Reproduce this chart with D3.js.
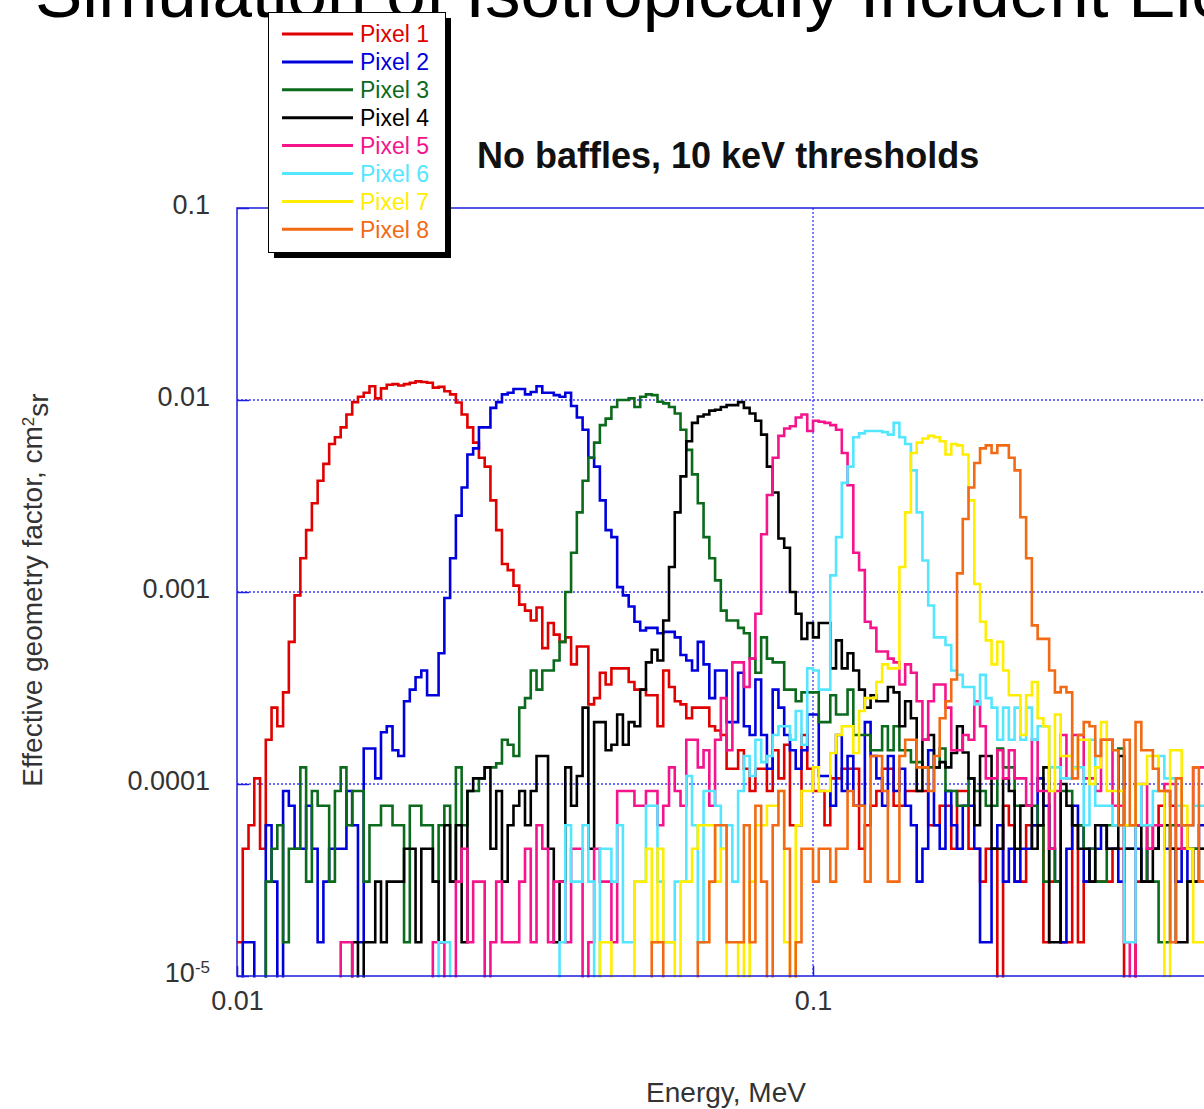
<!DOCTYPE html>
<html>
<head>
<meta charset="utf-8">
<script src="https://cdn.jsdelivr.net/npm/d3@7"></script>
<style>
  body { margin: 0; background: #fff; overflow: hidden; }
  svg { display: block; font-family: "Liberation Sans", Arial, sans-serif; }
</style>
</head>
<body>
<div id="chart"></div>
<script>
// Histogram bins: log-spaced energy bins starting at 10 keV
const binStart = 0.01;          // MeV
const binsPerDecade = 100;

// Series labels / colours
const pixelNames = ["Pixel 1", "Pixel 2", "Pixel 3", "Pixel 4", "Pixel 5", "Pixel 6", "Pixel 7", "Pixel 8"];
const pixelColors = ["#e00000", "#0000dd", "#0b6a1c", "#000000", "#f5148c", "#55e6ff", "#ffee00", "#f26a14"];

// Effective geometry factor per bin, in units of 1e-5 cm^2 sr (0 = empty bin)
const unit = 1e-5;
const pixel1 = [
  1.5, 4.6, 6.1, 10.7, 4.6, 17, 25, 20, 30, 55,
  96, 150, 210, 290, 380, 465, 590, 640, 720, 840,
  975, 1040, 1090, 1180, 1020, 1150, 1200, 1210, 1190, 1210,
  1230, 1250, 1240, 1230, 1160, 1170, 1110, 1070, 970, 840,
  720, 600, 500, 450, 300, 210, 140, 130, 108, 86,
  80, 71, 83, 51, 69, 60, 55, 58, 42, 52,
  52, 26, 28, 38, 33, 40, 40, 40, 34, 31,
  31, 29, 29, 20, 39, 32, 27, 26, 22, 25,
  25, 25, 20, 19, 18, 12, 12, 15, 12, 9.2,
  12, 12, 9.2, 15, 10.7, 16, 6.1, 6.1, 18, 12,
  9.2, 9.2, 6.1, 10.7, 10.7, 12, 12, 12, 4.6, 6.1,
  7.7, 9.2, 12, 12, 7.7, 7.7, 9.2, 9.2, 9.2, 9.2,
  6.1, 6.1, 7.7, 7.7, 4.6, 9.2, 9.2, 4.6, 4.6, 3.1,
  4.6, 4.6, 0, 7.7, 6.1, 3.1, 3.1, 6.1, 6.1, 6.1,
  1.5, 3.1, 3.1, 1.5, 1.5, 6.1, 1.5, 3.1, 3.1, 3.1,
  3.1, 3.1, 4.6, 4.6, 0, 0, 3.1, 3.1, 6.1, 4.6,
  7.7, 9.2, 7.7, 4.6, 4.6, 4.6, 3.1, 3.1
];
const pixel2 = [
  0, 1.5, 1.5, 0, 0, 6.1, 3.1, 0, 9.2, 7.7,
  4.6, 4.6, 7.7, 4.6, 1.5, 3.1, 4.6, 4.6, 4.6, 9.2,
  6.1, 1.5, 15.3, 15.3, 10.7, 18.6, 20, 15, 14, 27,
  31, 36, 39, 29, 29, 48, 93, 150, 250, 350,
  520, 560, 720, 720, 910, 975, 1070, 1090, 1140, 1140,
  1070, 1100, 1180, 1090, 1090, 1060, 1040, 1090, 930, 810,
  700, 500, 450, 300, 210, 193, 106, 96, 84, 70,
  63, 65, 65, 61, 62, 62, 58, 47, 44, 39,
  55, 42, 28, 39, 39, 21, 21, 38, 20, 18,
  35, 18, 12, 31, 25, 18, 15, 12, 15, 23,
  23, 11, 11, 7.7, 18, 9.2, 14, 7.7, 7.7, 21,
  14, 10.7, 7.7, 14, 9.2, 12, 7.7, 6.1, 3.1, 4.6,
  15, 6.1, 4.6, 9.2, 6.1, 4.6, 7.7, 7.7, 4.6, 1.5,
  1.5, 4.6, 6.1, 3.1, 4.6, 3.1, 4.6, 4.6, 6.1, 10.7,
  7.7, 4.6, 3.1, 1.5, 4.6, 7.7, 6.1, 3.1, 4.6, 4.6,
  6.1, 4.6, 4.6, 3.1, 4.6, 4.6, 4.6, 3.1, 4.6, 4.6,
  6.1, 4.6, 4.6, 3.1, 4.6, 3.1, 4.6, 6.1
];
const pixel3 = [
  0, 0, 0, 0, 0, 3.1, 4.6, 6.1, 1.5, 4.6,
  4.6, 12.2, 3.1, 9.2, 7.7, 7.7, 3.1, 9.2, 12.2, 6.1,
  9.2, 9.2, 3.1, 6.1, 6.1, 7.7, 7.7, 6.1, 6.1, 1.5,
  7.7, 7.7, 6.1, 6.1, 3.1, 6.1, 7.7, 3.1, 12.2, 6.1,
  9.2, 9.2, 10.7, 12.2, 12.2, 12.8, 17, 16, 14, 25,
  28, 39, 31, 39, 39, 44, 55, 100, 160, 260,
  380, 500, 600, 740, 800, 920, 1000, 1000, 1020, 920,
  1040, 1070, 1060, 980, 960, 920, 850, 700, 550, 410,
  290, 193, 150, 115, 80, 71, 71, 65, 61, 45,
  38, 58, 45, 43, 43, 31, 31, 27, 30, 30,
  30, 21, 21, 29, 23, 23, 31, 18, 18, 18,
  15, 15, 20, 15, 20, 15, 15, 13, 13, 12.2,
  12.2, 12.2, 15.3, 9.2, 9.2, 7.7, 7.7, 10.7, 9.2, 9.2,
  7.7, 7.7, 15.3, 12.2, 12.2, 7.7, 7.7, 7.7, 7.7, 6.1,
  3.1, 4.6, 3.1, 9.2, 9.2, 6.1, 6.1, 4.6, 4.6, 3.1,
  3.1, 6.1, 6.1, 15.3, 6.1, 6.1, 6.1, 6.1, 3.1, 3.1,
  1.5, 1.5, 6.1, 6.1, 6.1, 4.6, 4.6, 4.6
];
const pixel4 = [
  0, 0, 0, 0, 0, 0, 0, 0, 0, 0,
  0, 0, 0, 0, 0, 0, 0, 0, 0, 0,
  1.5, 0, 1.5, 1.5, 3.1, 1.5, 3.1, 3.1, 3.1, 4.6,
  4.6, 1.5, 4.6, 4.6, 3.1, 1.5, 6.1, 3.1, 6.1, 1.5,
  9.2, 10.7, 10.7, 12.2, 4.6, 9.2, 3.1, 6.1, 7.7, 9.2,
  6.1, 9.2, 14, 14, 4.6, 1.5, 3.1, 12.2, 7.7, 11,
  25, 4.6, 21, 21, 15, 16, 23, 16, 21, 20,
  31, 43, 50, 44, 71, 135, 260, 400, 610, 760,
  820, 840, 880, 890, 920, 940, 940, 975, 910, 850,
  780, 660, 450, 330, 190, 170, 100, 77, 57, 69,
  58, 69, 69, 40, 56, 40, 48, 39, 31, 25,
  29, 27, 27, 32, 30, 20, 27, 22, 9.2, 17,
  18, 12.2, 13, 12.2, 14.5, 20, 14.6, 10.7, 6.1, 14,
  14, 4.6, 4.6, 10.7, 9.2, 4.6, 7.7, 7.7, 4.6, 6.1,
  12.2, 1.5, 1.5, 10, 7.7, 6.1, 4.6, 4.6, 3.1, 6.1,
  6.1, 4.6, 4.6, 14, 4.6, 4.6, 6.1, 3.1, 3.1, 4.6,
  6.1, 6.1, 4.6, 1.5, 1.5, 3.1, 3.1, 4.6
];
const pixel5 = [
  0, 0, 0, 0, 0, 0, 0, 0, 0, 0,
  0, 0, 0, 0, 0, 0, 0, 0, 1.5, 1.5,
  0, 0, 0, 0, 0, 0, 0, 0, 0, 0,
  0, 0, 0, 0, 1.5, 1.5, 0, 0, 3.1, 4.6,
  1.5, 3.1, 3.1, 0, 1.5, 3.1, 1.5, 1.5, 1.5, 3.1,
  4.6, 1.5, 6.1, 4.6, 1.5, 3.1, 3.1, 1.5, 4.6, 4.6,
  0, 1.5, 4.6, 3.1, 3.1, 1.5, 9.2, 9.2, 9.2, 7.7,
  7.7, 9.2, 9.2, 6.1, 7.7, 12.2, 9.2, 7.7, 17, 17,
  12.2, 15, 7.7, 17, 28, 15, 43, 43, 32, 45,
  77, 200, 320, 500, 650, 710, 730, 810, 840, 690,
  780, 770, 760, 740, 700, 530, 360, 160, 130, 70,
  65, 49, 49, 45, 43, 33, 42, 38, 27, 17,
  27, 33, 33, 25, 15, 15, 18, 17, 27, 20,
  10.7, 10.7, 15, 10.7, 15, 10.7, 10.7, 7.7, 17, 9.2,
  9.2, 4.6, 9.2, 18, 10.7, 18, 18, 10.7, 10.7, 9.2,
  17, 17, 7.7, 7.7, 1.5, 0, 6.1, 10, 4.6, 6.1,
  6.1, 10, 10, 6.1, 4.6, 6.1, 12.2, 12.2
];
const pixel6 = [
  0, 0, 0, 0, 0, 0, 0, 0, 0, 0,
  0, 0, 0, 0, 0, 0, 0, 0, 0, 0,
  0, 0, 0, 0, 0, 0, 0, 0, 0, 0,
  0, 0, 0, 0, 0, 1.5, 1.5, 0, 0, 0,
  0, 0, 0, 0, 0, 0, 0, 0, 0, 0,
  0, 0, 0, 0, 0, 0, 1.5, 6.1, 3.1, 3.1,
  6.1, 3.1, 0, 4.6, 4.6, 3.1, 6.1, 1.5, 1.5, 3.1,
  3.1, 7.7, 7.7, 3.1, 1.5, 1.5, 3.1, 3.1, 11, 6.1,
  1.5, 9.2, 9.2, 7.7, 4.6, 6.1, 3.1, 9.2, 14, 11,
  17, 13, 14, 18, 20, 20, 17, 24, 16, 40,
  39, 31, 31, 122, 193, 370, 450, 640, 670, 690,
  690, 690, 680, 660, 760, 640, 590, 430, 260, 146,
  85, 58, 58, 53, 39, 37, 32, 32, 26, 37,
  28, 25, 17, 25, 17, 25, 17, 25, 17, 20,
  20, 12.2, 12.2, 10.7, 10.7, 12.2, 12.2, 6.1, 17, 7.7,
  7.7, 7.7, 6.1, 6.1, 1.5, 1.5, 10, 6.1, 6.1, 9.2,
  14, 10.7, 10.7, 7.7, 6.1, 6.1, 7.7, 7.7
];
const pixel7 = [
  0, 0, 0, 0, 0, 0, 0, 0, 0, 0,
  0, 0, 0, 0, 0, 0, 0, 0, 0, 0,
  0, 0, 0, 0, 0, 0, 0, 0, 0, 0,
  0, 0, 0, 0, 0, 0, 0, 0, 0, 0,
  0, 0, 0, 0, 0, 0, 0, 0, 0, 0,
  0, 0, 0, 0, 0, 0, 0, 0, 0, 0,
  0, 0, 0, 1.5, 1.5, 0, 0, 0, 0, 3.1,
  3.1, 4.6, 1.5, 4.6, 1.5, 1.5, 0, 3.1, 3.1, 4.6,
  6.1, 6.1, 6.1, 3.1, 4.6, 0, 0, 1.5, 0, 3.1,
  6.1, 6.1, 7.7, 7.7, 9.2, 1.5, 0, 6.1, 9.2, 9.2,
  12.2, 9.2, 9.2, 14.5, 18, 20, 20, 14.5, 24, 28,
  28, 34, 42, 40, 40, 135, 260, 530, 600, 630,
  650, 640, 610, 520, 590, 580, 520, 300, 110, 70,
  56, 42, 55, 39, 29, 29, 18, 29, 34, 22,
  20, 9.2, 23, 14, 14, 12, 17, 17, 10, 12.2,
  21, 9.2, 9.2, 9.2, 6.1, 6.1, 10, 10, 14, 14,
  9.2, 0, 15, 15, 7.7, 4.6, 1.5, 1.5
];
const pixel8 = [
  0, 0, 0, 0, 0, 0, 0, 0, 0, 0,
  0, 0, 0, 0, 0, 0, 0, 0, 0, 0,
  0, 0, 0, 0, 0, 0, 0, 0, 0, 0,
  0, 0, 0, 0, 0, 0, 0, 0, 0, 0,
  0, 0, 0, 0, 0, 0, 0, 0, 0, 0,
  0, 0, 0, 0, 0, 0, 0, 0, 0, 0,
  0, 0, 0, 0, 0, 0, 0, 0, 0, 0,
  0, 0, 1.5, 1.5, 0, 0, 0, 0, 0, 0,
  1.5, 1.5, 3.1, 6.1, 6.1, 1.5, 1.5, 1.5, 6.1, 1.5,
  7.7, 3.1, 0, 6.1, 9.2, 4.6, 0, 1.5, 4.6, 4.6,
  3.1, 4.6, 4.6, 3.1, 4.6, 4.6, 9.2, 7.7, 7.7, 3.1,
  14, 14, 9.2, 3.1, 3.1, 14, 17, 17, 12.2, 12.2,
  9.2, 14, 22, 27, 35, 125, 240, 350, 470, 560,
  580, 530, 580, 580, 500, 430, 245, 150, 67, 57,
  57, 39, 30, 32, 30, 10.7, 18, 21, 20, 14,
  17, 17, 15, 6.1, 17, 6.1, 21, 15, 15, 12,
  9.2, 9.2, 1.5, 10.7, 6.1, 6.1, 12.2, 3.1
];
const pixelValues = [pixel1, pixel2, pixel3, pixel4, pixel5, pixel6, pixel7, pixel8];

// Axis ticks
const yTicks = [1e-5, 1e-4, 1e-3, 1e-2, 1e-1];
const yTickLabels = ["10-5", "0.0001", "0.001", "0.01", "0.1"];
const xTicks = [0.01, 0.1];
const xTickLabels = ["0.01", "0.1"];

// Layout
const width = 1204;
const height = 1109;
const plot = { left: 237, top: 208, right: 1389, bottom: 976 };
const frameColor = "#1c1cdc";
const gridColor = "#3b3bff";
const textColor = "#333";

const svg = d3.select("#chart")
  .append("svg")
  .attr("width", width)
  .attr("height", height);

// Scales (x axis runs to 1 MeV, past the right edge of the picture)
const x = d3.scaleLog().domain([0.01, 1]).range([plot.left, plot.right]);
const y = d3.scaleLog().domain([1e-5, 0.1]).range([plot.bottom, plot.top]);

// Grid (dotted)
const grid = svg.append("g");
grid.selectAll(".hgrid")
  .data([1e-4, 1e-3, 1e-2])
  .join("line")
  .attr("x1", plot.left).attr("x2", plot.right)
  .attr("y1", d => y(d)).attr("y2", d => y(d))
  .attr("stroke", gridColor)
  .attr("stroke-width", 1.3)
  .attr("stroke-dasharray", "2,2");
grid.append("line")
  .attr("x1", x(0.1)).attr("x2", x(0.1))
  .attr("y1", plot.top).attr("y2", plot.bottom)
  .attr("stroke", gridColor)
  .attr("stroke-width", 1.3)
  .attr("stroke-dasharray", "2,2");

// Clip for the histograms
svg.append("clipPath").attr("id", "plot-clip")
  .append("rect")
  .attr("x", plot.left).attr("y", plot.top)
  .attr("width", plot.right - plot.left)
  .attr("height", plot.bottom - plot.top + 1.5);

// Histograms (step lines)
const nBins = pixel1.length;
const edges = d3.range(nBins + 1).map(i => binStart * Math.pow(10, i / binsPerDecade));
const floorValue = 1e-6; // empty bins drop below the axis

const line = d3.line()
  .x(d => x(d.e))
  .y(d => y(d.v > 0 ? d.v * unit : floorValue))
  .curve(d3.curveStepAfter);

const lines = svg.append("g").attr("clip-path", "url(#plot-clip)");
pixelValues.forEach((vals, k) => {
  const pts = vals.map((v, i) => ({ e: edges[i], v }));
  pts.push({ e: edges[vals.length], v: vals[vals.length - 1] });
  lines.append("path")
    .datum(pts)
    .attr("fill", "none")
    .attr("stroke", pixelColors[k])
    .attr("stroke-width", 2.6)
    .attr("stroke-linejoin", "miter")
    .attr("d", line);
});

// Axes
const yAxis = svg.append("g")
  .attr("transform", `translate(${plot.left},0)`)
  .call(d3.axisLeft(y)
    .tickValues(yTicks)
    .tickFormat((d, i) => yTickLabels[i])
    .tickSize(-12)
    .tickSizeOuter(0)
    .tickPadding(27));

const xAxis = svg.append("g")
  .attr("transform", `translate(0,${plot.bottom})`)
  .call(d3.axisBottom(x)
    .tickValues(xTicks)
    .tickFormat((d, i) => xTickLabels[i])
    .tickSize(-10)
    .tickSizeOuter(0)
    .tickPadding(15));

[yAxis, xAxis].forEach(g => {
  g.select(".domain").remove();
  g.selectAll("line").attr("stroke", frameColor).attr("stroke-width", 1.5);
  g.selectAll("text")
    .attr("fill", textColor)
    .style("font-size", "27px")
    .style("font-family", "\"Liberation Sans\", Arial, sans-serif");
});
yAxis.selectAll("text").attr("dy", "0.22em");

// 10^-5 label with superscript
yAxis.selectAll(".tick text")
  .filter(d => d === 1e-5)
  .text(null)
  .call(t => {
    t.append("tspan").text("10");
    t.append("tspan").attr("dy", "-0.55em").style("font-size", "17px").text("-5");
  });

// Frame
svg.append("rect")
  .attr("x", plot.left).attr("y", plot.top)
  .attr("width", plot.right - plot.left)
  .attr("height", plot.bottom - plot.top)
  .attr("fill", "none")
  .attr("stroke", frameColor)
  .attr("stroke-width", 1.5);

// Axis titles
svg.append("text")
  .attr("x", 726).attr("y", 1102)
  .attr("text-anchor", "middle")
  .attr("fill", textColor)
  .style("font-size", "28px")
  .text("Energy, MeV");

const yTitle = svg.append("text")
  .attr("transform", "translate(42,590) rotate(-90)")
  .attr("text-anchor", "middle")
  .attr("fill", textColor)
  .style("font-size", "28px");
yTitle.append("tspan").text("Effective geometry factor, cm");
yTitle.append("tspan").attr("dy", "-0.5em").style("font-size", "17px").text("2");
yTitle.append("tspan").attr("dy", "0.5em").text("sr");

// Titles
svg.append("text")
  .attr("x", 35).attr("y", 17)
  .attr("fill", "#000")
  .style("font-size", "71px")
  .text("Simulation of Isotropically Incident Electrons");

svg.append("text")
  .attr("x", 477).attr("y", 168)
  .attr("fill", "#111")
  .style("font-size", "36px")
  .style("font-weight", "bold")
  .text("No baffles, 10 keV thresholds");

// Legend
const legend = svg.append("g");
legend.append("rect")
  .attr("x", 274).attr("y", 18).attr("width", 177).attr("height", 240)
  .attr("fill", "#000");
legend.append("rect")
  .attr("x", 268.5).attr("y", 12.5).attr("width", 177).attr("height", 240)
  .attr("fill", "#fff").attr("stroke", "#000").attr("stroke-width", 1);

const rows = legend.selectAll(".row")
  .data(pixelNames)
  .join("g")
  .attr("transform", (d, i) => `translate(0,${34 + i * 27.9})`);
rows.append("line")
  .attr("x1", 282).attr("x2", 353)
  .attr("stroke", (d, i) => pixelColors[i])
  .attr("stroke-width", 3);
rows.append("text")
  .attr("x", 360).attr("dy", "0.36em")
  .attr("fill", (d, i) => pixelColors[i])
  .style("font-size", "23px")
  .text(d => d);
</script>
</body>
</html>
